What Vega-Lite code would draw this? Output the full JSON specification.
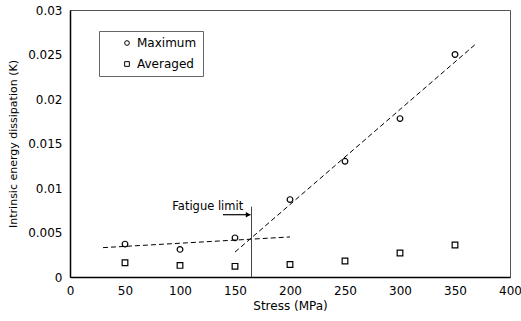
{
  "$schema": "https://vega.github.io/schema/vega-lite/v6.json",
  "autosize": "none",
  "padding": {"left": 70, "top": 10, "right": 11, "bottom": 44},
  "width": 440,
  "height": 267,
  "background": "white",
  "config": {
    "font": "DejaVu Sans",
    "view": {"stroke": "#555", "strokeWidth": 1},
    "axis": {"grid": false, "domainColor": "black", "domainWidth": 1.5, "ticks": false, "labelColor": "black", "titleColor": "black", "labelFontSize": 12, "titleFontSize": 12, "titleFontWeight": "normal", "labelPadding": 8, "labelFlush": false}
  },
  "datasets": {
    "pts": [
      {"stress": 50, "value": 0.0037, "series": "Maximum"},
      {"stress": 100, "value": 0.0031, "series": "Maximum"},
      {"stress": 150, "value": 0.0044, "series": "Maximum"},
      {"stress": 200, "value": 0.0087, "series": "Maximum"},
      {"stress": 250, "value": 0.0130, "series": "Maximum"},
      {"stress": 300, "value": 0.0178, "series": "Maximum"},
      {"stress": 350, "value": 0.0250, "series": "Maximum"},
      {"stress": 50, "value": 0.0016, "series": "Averaged"},
      {"stress": 100, "value": 0.0013, "series": "Averaged"},
      {"stress": 150, "value": 0.0012, "series": "Averaged"},
      {"stress": 200, "value": 0.0014, "series": "Averaged"},
      {"stress": 250, "value": 0.0018, "series": "Averaged"},
      {"stress": 300, "value": 0.0027, "series": "Averaged"},
      {"stress": 350, "value": 0.0036, "series": "Averaged"}
    ],
    "fits": [
      {"stress": 30, "value": 0.0033, "fit": "low"},
      {"stress": 200, "value": 0.0045, "fit": "low"},
      {"stress": 150, "value": 0.0028, "fit": "high"},
      {"stress": 370, "value": 0.0263, "fit": "high"}
    ]
  },
  "layer": [
    {
      "data": {"name": "fits"},
      "mark": {"type": "line", "color": "black", "strokeDash": [5, 3], "strokeWidth": 1},
      "encoding": {
        "x": {"field": "stress", "type": "quantitative", "scale": {"domain": [0, 400]}, "axis": {"values": [0,50,100,150,200,250,300,350,400], "title": "Stress (MPa)", "titlePadding": 4}},
        "y": {"field": "value", "type": "quantitative", "scale": {"domain": [0, 0.03]}, "axis": {"values": [0,0.005,0.01,0.015,0.02,0.025,0.03], "format": "~g", "title": "Intrinsic energy dissipation (K)", "titleFontSize": 11, "titlePadding": 9}},
        "detail": {"field": "fit"}
      }
    },
    {
      "data": {"values": [{"stress": 165, "y0": 0, "y1": 0.0079}]},
      "mark": {"type": "rule", "color": "#444", "strokeWidth": 1},
      "encoding": {
        "x": {"field": "stress", "type": "quantitative"},
        "y": {"field": "y0", "type": "quantitative"},
        "y2": {"field": "y1"}
      }
    },
    {
      "data": {"values": [{"x0": 139, "x1": 164, "v": 0.0070}]},
      "mark": {"type": "rule", "color": "black", "strokeWidth": 1.2},
      "encoding": {
        "x": {"field": "x0", "type": "quantitative"},
        "x2": {"field": "x1"},
        "y": {"field": "v", "type": "quantitative"}
      }
    },
    {
      "data": {"values": [{"x": 162, "v": 0.0070}]},
      "mark": {"type": "point", "shape": "triangle-right", "filled": true, "color": "black", "size": 30, "opacity": 1},
      "encoding": {
        "x": {"field": "x", "type": "quantitative"},
        "y": {"field": "v", "type": "quantitative"}
      }
    },
    {
      "data": {"values": [{"x": 93, "v": 0.0079, "label": "Fatigue limit"}]},
      "mark": {"type": "text", "align": "left", "baseline": "middle", "fontSize": 11.5, "color": "black"},
      "encoding": {
        "x": {"field": "x", "type": "quantitative"},
        "y": {"field": "v", "type": "quantitative"},
        "text": {"field": "label"}
      }
    },
    {
      "data": {"name": "pts"},
      "mark": {"type": "point", "filled": false, "strokeWidth": 1.2, "opacity": 1, "size": 32, "color": "black"},
      "encoding": {
        "x": {"field": "stress", "type": "quantitative"},
        "y": {"field": "value", "type": "quantitative"},
        "shape": {"field": "series", "type": "nominal", "sort": ["Maximum", "Averaged"], "scale": {"domain": ["Maximum", "Averaged"], "range": ["circle", "square"]},
          "legend": {"title": null, "orient": "none", "legendX": 29, "legendY": 21, "padding": 6, "symbolOffset": 16, "strokeColor": "#666", "labelFontSize": 12, "symbolSize": 22, "symbolType": "circle", "symbolStrokeColor": "black", "symbolStrokeWidth": 1, "symbolFillColor": "white", "rowPadding": 9, "labelColor": "black", "labelOffset": 4, "labelExpr": "datum.label + '    '"}}
      }
    }
  ]
}
